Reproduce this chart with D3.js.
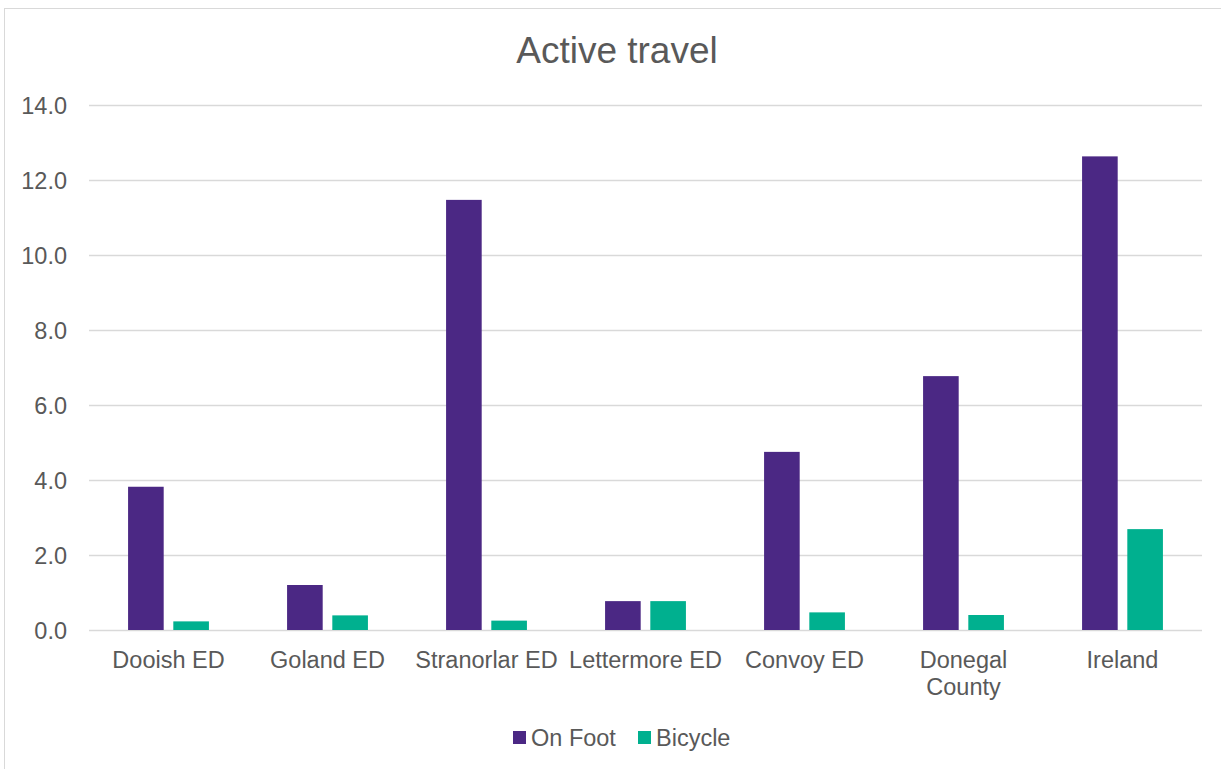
<!DOCTYPE html>
<html>
<head>
<meta charset="utf-8">
<script src="https://cdn.jsdelivr.net/npm/d3@7"></script>
<style>
  body { margin: 0; background: #fff; }
  text { font-family: "Liberation Sans", Arial, sans-serif; fill: #595959; }
</style>
</head>
<body>
<div id="viz"></div>
<script>
const categories = ['Dooish ED', 'Goland ED', 'Stranorlar ED', 'Lettermore ED', 'Convoy ED', 'Donegal County', 'Ireland'];
const seriesNames = ['On Foot', 'Bicycle'];
const onFoot = [3.82, 1.2, 11.47, 0.77, 4.75, 6.77, 12.63];
const bicycle = [0.23, 0.39, 0.25, 0.77, 0.47, 0.4, 2.69];
const yTicks = [0, 2, 4, 6, 8, 10, 12, 14];

const colours = ['#4b2884', '#00b08f'];
const textColour = '#595959';
const gridColour = '#d9d9d9';

const margin = { top: 105, right: 19, bottom: 139, left: 89 };
const fullWidth = 1221, fullHeight = 769;
const width = fullWidth - margin.left - margin.right;
const height = fullHeight - margin.top - margin.bottom;

const svg = d3.select('#viz').append('svg')
    .attr('width', fullWidth)
    .attr('height', fullHeight);

// chart border
svg.append('rect')
    .attr('x', 4.5).attr('y', 8.5)
    .attr('width', 1230).attr('height', 780)
    .attr('fill', 'none')
    .attr('stroke', gridColour);

svg.append('text')
    .attr('x', 617).attr('y', 63)
    .attr('text-anchor', 'middle')
    .style('font-size', '37px')
    .text('Active travel');

const g = svg.append('g')
    .attr('transform', 'translate(' + margin.left + ',' + margin.top + ')');

const x0 = d3.scaleBand()
    .domain(categories)
    .range([0, width]);

const barW = x0.bandwidth() * 0.224;
const barGap = barW * 0.27;

const x1 = d3.scaleOrdinal()
    .domain(seriesNames)
    .range([-barGap / 2 - barW, barGap / 2]);

const y = d3.scaleLinear()
    .domain([0, 14])
    .range([height, 0]);

// gridlines
const yAxis = d3.axisLeft(y)
    .tickValues(yTicks)
    .tickSize(-width)
    .tickFormat(d3.format('.1f'));

const yGuide = g.append('g').call(yAxis);
yGuide.select('.domain').remove();
yGuide.selectAll('line').attr('stroke', gridColour).attr('stroke-width', 1.5);
yGuide.selectAll('text')
    .attr('x', -22)
    .attr('dy', '0.36em')
    .style('font-size', '23.5px')
    .style('fill', textColour);

const rows = categories.map((c, i) => ({ cat: c, vals: [onFoot[i], bicycle[i]] }));

const groups = g.selectAll('.grp').data(rows)
    .enter().append('g')
    .attr('transform', d => 'translate(' + (x0(d.cat) + x0.bandwidth() / 2) + ',0)');

groups.selectAll('rect')
    .data(d => d.vals.map((v, j) => ({ name: seriesNames[j], v: v, j: j })))
    .enter().append('rect')
    .attr('x', d => x1(d.name))
    .attr('width', barW)
    .attr('y', d => y(d.v))
    .attr('height', d => height - y(d.v))
    .attr('fill', d => colours[d.j]);

// x labels
const xAxis = d3.axisBottom(x0).tickSize(0);
const xGuide = g.append('g')
    .attr('transform', 'translate(0,' + height + ')')
    .call(xAxis);
xGuide.select('.domain').remove();
xGuide.selectAll('text').remove();
xGuide.selectAll('.tick').each(function(d) {
    const t = d3.select(this).append('text')
        .attr('text-anchor', 'middle')
        .style('font-size', '23.5px')
        .style('fill', textColour);
    const lines = d === 'Donegal County' ? ['Donegal', 'County'] : [d];
    lines.forEach((l, i) => {
        t.append('tspan').attr('x', 0).attr('y', 38 + i * 27).text(l);
    });
});

// legend
const legend = svg.append('g').attr('transform', 'translate(513,738)');
const items = [{ name: 'On Foot', x: 0 }, { name: 'Bicycle', x: 125 }];
items.forEach((it, i) => {
    legend.append('rect')
        .attr('x', it.x).attr('y', -7)
        .attr('width', 13).attr('height', 13)
        .attr('fill', colours[i]);
    legend.append('text')
        .attr('x', it.x + 18).attr('y', 0)
        .attr('dy', '0.36em')
        .style('font-size', '23.5px')
        .text(it.name);
});
</script>
</body>
</html>
